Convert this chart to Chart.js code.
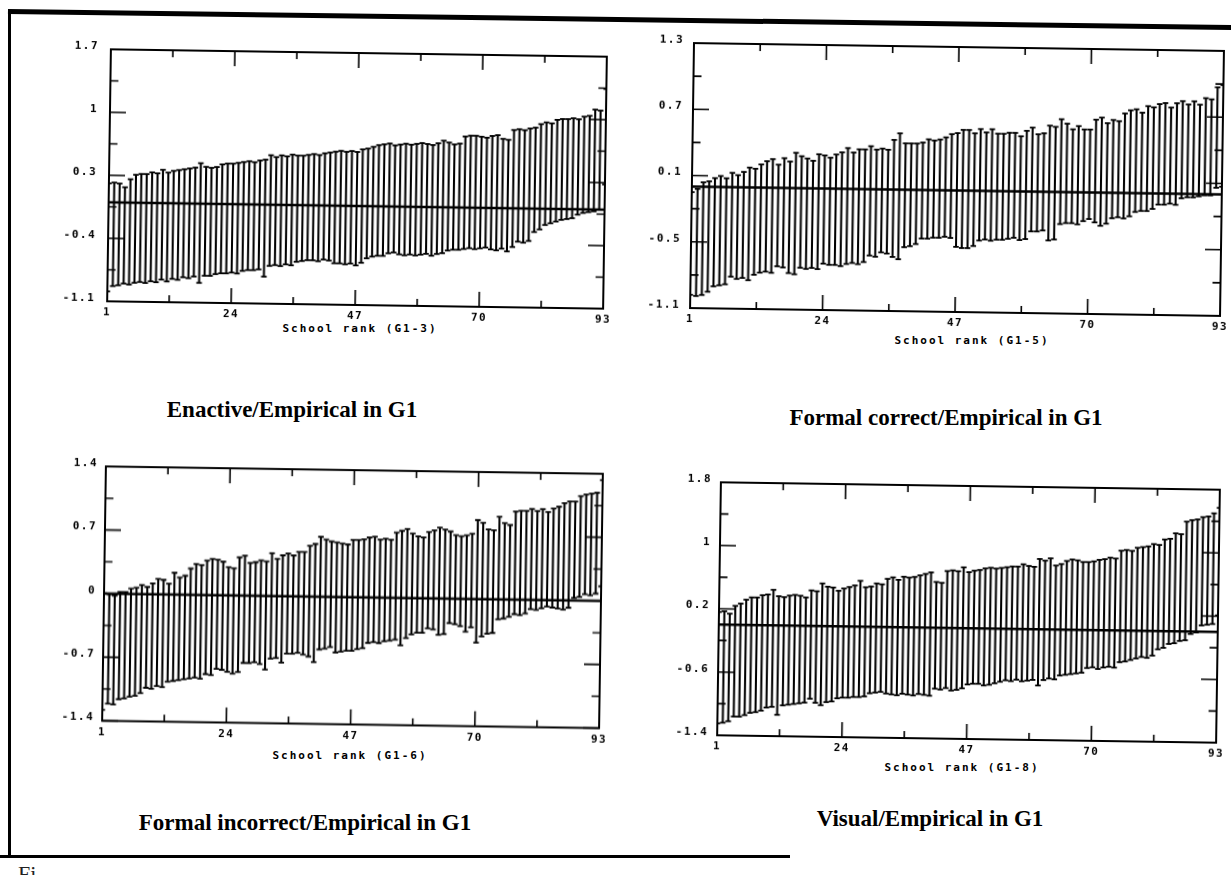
<!DOCTYPE html>
<html>
<head>
<meta charset="utf-8">
<title>School rank plots, G1</title>
<script src="https://cdn.jsdelivr.net/npm/chart.js@4.4.1/dist/chart.umd.min.js"></script>
<style>
  html, body { margin: 0; padding: 0; background: #fff; }
  body { width: 1231px; height: 875px; position: relative; overflow: hidden; }
  .panel { position: absolute; }
  .rank-title { position: absolute; font: bold 11px 'DejaVu Sans Mono', monospace; letter-spacing: 2px; white-space: nowrap; transform: translate(-50%, -50%); }
  .caption { position: absolute; font: bold 23px 'Liberation Serif', 'Times New Roman', serif; white-space: nowrap; transform: translate(-50%, -50%); }
  .rule { position: absolute; background: #000; }
  .cut { position: absolute; left: 18px; top: 861px; font: 22px 'Liberation Serif', serif; color: #222; }
</style>
</head>
<body>
<div class="rule" style="left:8px; top:12px; width:3px; height:846px"></div>
<div class="rule" style="left:8px; top:9px; width:1240px; height:5px; transform-origin:0 0; transform:rotate(0.75deg)"></div>
<div class="rule" style="left:0; top:855px; width:790px; height:3px"></div>
<div class="cut">Fi</div>

<div class="rank-title" style="left:360px; top:328px">School rank (G1-3)</div>
<div class="rank-title" style="left:972px; top:340px">School rank (G1-5)</div>
<div class="rank-title" style="left:350px; top:755px">School rank (G1-6)</div>
<div class="rank-title" style="left:962px; top:767px">School rank (G1-8)</div>

<div class="caption" style="left:292px; top:410px">Enactive/Empirical in G1</div>
<div class="caption" style="left:946px; top:418px">Formal correct/Empirical in G1</div>
<div class="caption" style="left:305px; top:823px">Formal incorrect/Empirical in G1</div>
<div class="caption" style="left:930px; top:819px">Visual/Empirical in G1</div>

<script>
// school ranks 1..93 (x categories)
const ranks = Array.from({ length: 93 }, (_, i) => i + 1);
const xTicks = [1, 24, 47, 70, 93];
const xMinorTicks = [12.5, 35.5, 58.5, 81.5];
const refLine = 0;

// Enactive/Empirical (G1-3)
const p1YTicks = [-1.1, -0.4, 0.3, 1, 1.7];
const p1YLabels = ['-1.1', '-0.4', '0.3', '1', '1.7'];
const p1Upper = [
  0.21, 0.22, 0.21, 0.17, 0.26, 0.31, 0.32, 0.32, 0.34, 0.33,
  0.37, 0.34, 0.36, 0.37, 0.38, 0.39, 0.40, 0.45, 0.41, 0.40,
  0.41, 0.44, 0.45, 0.45, 0.46, 0.47, 0.48, 0.47, 0.49, 0.50,
  0.55, 0.53, 0.55, 0.54, 0.56, 0.55, 0.55, 0.56, 0.57, 0.56,
  0.58, 0.59, 0.60, 0.61, 0.60, 0.61, 0.60, 0.63, 0.64, 0.66,
  0.68, 0.69, 0.70, 0.68, 0.69, 0.70, 0.69, 0.70, 0.71, 0.70,
  0.69, 0.71, 0.74, 0.72, 0.70, 0.71, 0.79, 0.80, 0.80, 0.79,
  0.78, 0.80, 0.81, 0.77, 0.76, 0.87, 0.88, 0.87, 0.89, 0.90,
  0.94, 0.96, 0.95, 0.99, 1.00, 1.00, 1.01, 1.00, 1.03, 1.04,
  1.11, 1.10, 1.34];
const p1Lower = [
  -0.99, -0.93, -0.92, -0.90, -0.91, -0.89, -0.88, -0.89, -0.87, -0.88,
  -0.85, -0.87, -0.84, -0.85, -0.82, -0.83, -0.81, -0.88, -0.80, -0.80,
  -0.78, -0.77, -0.77, -0.76, -0.77, -0.74, -0.73, -0.73, -0.72, -0.80,
  -0.68, -0.67, -0.68, -0.66, -0.67, -0.63, -0.62, -0.61, -0.61, -0.62,
  -0.60, -0.61, -0.64, -0.64, -0.65, -0.64, -0.66, -0.63, -0.58, -0.56,
  -0.55, -0.55, -0.52, -0.51, -0.53, -0.54, -0.53, -0.54, -0.53, -0.52,
  -0.54, -0.52, -0.51, -0.48, -0.47, -0.47, -0.46, -0.45, -0.46, -0.45,
  -0.44, -0.46, -0.47, -0.45, -0.48, -0.43, -0.37, -0.38, -0.36, -0.26,
  -0.23, -0.18, -0.16, -0.14, -0.12, -0.11, -0.10, -0.06, -0.04, -0.03,
  -0.02, 0.00, 0.28];

// Formal correct/Empirical (G1-5)
const p2YTicks = [-1.1, -0.5, 0.1, 0.7, 1.3];
const p2YLabels = ['-1.1', '-0.5', '0.1', '0.7', '1.3'];
const p2Upper = [
  -0.05, -0.02, 0.04, 0.05, 0.08, 0.10, 0.08, 0.13, 0.11, 0.14,
  0.18, 0.17, 0.21, 0.24, 0.26, 0.21, 0.27, 0.24, 0.32, 0.29,
  0.27, 0.25, 0.31, 0.30, 0.28, 0.31, 0.33, 0.37, 0.33, 0.36,
  0.36, 0.39, 0.36, 0.37, 0.36, 0.45, 0.51, 0.42, 0.42, 0.42,
  0.43, 0.46, 0.45, 0.46, 0.48, 0.51, 0.52, 0.55, 0.55, 0.52,
  0.56, 0.53, 0.56, 0.52, 0.52, 0.53, 0.53, 0.50, 0.55, 0.58,
  0.52, 0.53, 0.60, 0.59, 0.66, 0.62, 0.57, 0.60, 0.57, 0.57,
  0.66, 0.68, 0.63, 0.66, 0.65, 0.72, 0.75, 0.76, 0.73, 0.79,
  0.78, 0.81, 0.82, 0.78, 0.82, 0.84, 0.81, 0.84, 0.81, 0.87,
  0.86, 0.97, 0.99];
const p2Lower = [
  -0.98, -0.99, -0.98, -0.95, -0.90, -0.89, -0.88, -0.81, -0.83, -0.82,
  -0.84, -0.79, -0.77, -0.76, -0.77, -0.71, -0.72, -0.77, -0.78, -0.72,
  -0.73, -0.72, -0.73, -0.68, -0.69, -0.69, -0.70, -0.68, -0.67, -0.68,
  -0.66, -0.60, -0.61, -0.57, -0.58, -0.61, -0.63, -0.52, -0.51, -0.49,
  -0.44, -0.44, -0.43, -0.43, -0.42, -0.43, -0.51, -0.52, -0.52, -0.50,
  -0.45, -0.44, -0.45, -0.44, -0.44, -0.43, -0.42, -0.44, -0.43, -0.36,
  -0.36, -0.35, -0.44, -0.43, -0.29, -0.28, -0.28, -0.29, -0.26, -0.24,
  -0.27, -0.30, -0.28, -0.23, -0.22, -0.23, -0.21, -0.17, -0.16, -0.16,
  -0.14, -0.10, -0.10, -0.09, -0.10, -0.04, -0.03, -0.03, -0.02, -0.01,
  -0.01, 0.06, 0.07];

// Formal incorrect/Empirical (G1-6)
const p3YTicks = [-1.4, -0.7, 0, 0.7, 1.4];
const p3YLabels = ['-1.4', '-0.7', '0', '0.7', '1.4'];
const p3Upper = [
  0.00, -0.01, -0.02, 0.02, 0.02, 0.06, 0.07, 0.10, 0.08, 0.12,
  0.17, 0.16, 0.12, 0.24, 0.19, 0.21, 0.29, 0.34, 0.33, 0.38,
  0.40, 0.39, 0.37, 0.31, 0.30, 0.42, 0.44, 0.36, 0.37, 0.39,
  0.38, 0.47, 0.41, 0.45, 0.47, 0.45, 0.49, 0.49, 0.56, 0.58,
  0.66, 0.63, 0.61, 0.60, 0.59, 0.58, 0.63, 0.63, 0.64, 0.66,
  0.67, 0.64, 0.65, 0.64, 0.72, 0.74, 0.76, 0.71, 0.68, 0.67,
  0.73, 0.75, 0.78, 0.76, 0.74, 0.70, 0.69, 0.70, 0.72, 0.87,
  0.84, 0.77, 0.76, 0.91, 0.84, 0.82, 0.97, 0.98, 0.98, 1.00,
  0.98, 1.00, 0.97, 1.01, 1.03, 1.07, 1.09, 1.09, 1.15, 1.17,
  1.18, 1.19, 1.33];
const p3Lower = [
  -1.28, -1.21, -1.22, -1.16, -1.15, -1.13, -1.12, -1.09, -1.03, -1.04,
  -1.01, -1.02, -0.96, -0.95, -0.94, -0.93, -0.92, -0.91, -0.92, -0.87,
  -0.88, -0.81, -0.82, -0.84, -0.86, -0.84, -0.74, -0.74, -0.73, -0.75,
  -0.81, -0.69, -0.68, -0.73, -0.63, -0.63, -0.62, -0.64, -0.66, -0.72,
  -0.58, -0.57, -0.55, -0.61, -0.60, -0.59, -0.59, -0.57, -0.56, -0.50,
  -0.49, -0.50, -0.48, -0.47, -0.46, -0.52, -0.44, -0.40, -0.38, -0.38,
  -0.33, -0.34, -0.40, -0.39, -0.27, -0.28, -0.30, -0.36, -0.31, -0.48,
  -0.41, -0.38, -0.37, -0.22, -0.21, -0.19, -0.16, -0.17, -0.15, -0.10,
  -0.11, -0.09, -0.07, -0.08, -0.09, -0.10, -0.08, 0.03, 0.04, 0.07,
  0.06, 0.08, 0.16];

// Visual/Empirical (G1-8)
const p4YTicks = [-1.4, -0.6, 0.2, 1, 1.8];
const p4YLabels = ['-1.4', '-0.6', '0.2', '1', '1.8'];
const p4Upper = [
  0.16, 0.17, 0.14, 0.24, 0.27, 0.32, 0.35, 0.35, 0.38, 0.39,
  0.45, 0.37, 0.36, 0.38, 0.39, 0.38, 0.36, 0.45, 0.44, 0.54,
  0.50, 0.49, 0.45, 0.48, 0.50, 0.52, 0.58, 0.50, 0.51, 0.55,
  0.54, 0.61, 0.63, 0.60, 0.64, 0.63, 0.64, 0.66, 0.68, 0.70,
  0.58, 0.57, 0.72, 0.73, 0.72, 0.77, 0.71, 0.73, 0.74, 0.76,
  0.77, 0.76, 0.77, 0.78, 0.79, 0.79, 0.82, 0.80, 0.79, 0.89,
  0.87, 0.90, 0.81, 0.83, 0.87, 0.89, 0.88, 0.86, 0.86, 0.87,
  0.89, 0.90, 0.92, 0.91, 1.01, 1.02, 1.01, 1.05, 1.06, 1.07,
  1.10, 1.09, 1.16, 1.17, 1.24, 1.23, 1.39, 1.41, 1.42, 1.45,
  1.46, 1.50, 1.57];
const p4Lower = [
  -1.25, -1.24, -1.22, -1.16, -1.16, -1.14, -1.11, -1.10, -1.08, -1.04,
  -1.03, -1.13, -1.01, -1.00, -0.99, -0.98, -0.97, -0.92, -0.97, -1.00,
  -0.96, -0.95, -0.91, -0.90, -0.90, -0.89, -0.89, -0.88, -0.84, -0.83,
  -0.82, -0.84, -0.85, -0.86, -0.84, -0.85, -0.86, -0.84, -0.85, -0.86,
  -0.77, -0.78, -0.76, -0.79, -0.78, -0.76, -0.71, -0.70, -0.70, -0.72,
  -0.71, -0.69, -0.67, -0.65, -0.66, -0.64, -0.66, -0.65, -0.64, -0.71,
  -0.64, -0.62, -0.63, -0.58, -0.57, -0.56, -0.55, -0.54, -0.48, -0.47,
  -0.49, -0.47, -0.46, -0.47, -0.40, -0.39, -0.37, -0.35, -0.33, -0.34,
  -0.31, -0.23, -0.21, -0.16, -0.15, -0.12, -0.11, -0.03, -0.01, 0.08,
  0.09, 0.10, 0.21];

const panels = [
  { left: 109, right: 605, top: 53, bottom: 305, yTicks: p1YTicks, yLabels: p1YLabels, upper: p1Upper, lower: p1Lower, gap: 12 },
  { left: 692, right: 1222, top: 46.5, bottom: 311.5, yTicks: p2YTicks, yLabels: p2YLabels, upper: p2Upper, lower: p2Lower, gap: 10 },
  { left: 104, right: 601, top: 470, bottom: 723.5, yTicks: p3YTicks, yLabels: p3YLabels, upper: p3Upper, lower: p3Lower, gap: 8 },
  { left: 719, right: 1218, top: 485.5, bottom: 738.5, yTicks: p4YTicks, yLabels: p4YLabels, upper: p4Upper, lower: p4Lower, gap: 9 }
];

const tilt = 0.85;
const tickFont = { family: 'DejaVu Sans Mono', size: 11, weight: 'bold' };

// the old plotter font is spaced out
const spacing = {
  id: 'spacing',
  beforeDraw(chart) { chart.ctx.letterSpacing = '1.5px'; }
};

// box round the plot with inward ticks on all four sides
const frameTicks = {
  id: 'frameTicks',
  afterDatasetsDraw(chart) {
    const { ctx, chartArea: a, scales: { x, y } } = chart;
    const yt = chart.config._config.yTicks;
    ctx.save();
    ctx.strokeStyle = '#000';
    ctx.lineWidth = 1.6;
    ctx.beginPath();
    const hTick = (py, len) => {
      ctx.moveTo(a.left, py); ctx.lineTo(a.left + len, py);
      ctx.moveTo(a.right, py); ctx.lineTo(a.right - len, py);
    };
    const vTick = (px, len) => {
      ctx.moveTo(px, a.top); ctx.lineTo(px, a.top + len);
      ctx.moveTo(px, a.bottom); ctx.lineTo(px, a.bottom - len);
    };
    yt.forEach((v, i) => {
      hTick(y.getPixelForValue(v), 16);
      if (i < yt.length - 1) hTick(y.getPixelForValue((v + yt[i + 1]) / 2), 8);
    });
    xTicks.forEach(v => vTick(x.getPixelForValue(v), 15));
    xMinorTicks.forEach(v => vTick(x.getPixelForValue(v), 7));
    ctx.stroke();
    ctx.lineWidth = 2;
    ctx.strokeRect(a.left, a.top, a.right - a.left, a.bottom - a.top);
    ctx.restore();
  }
};

function drawPanel(p) {
  const padL = 70, padT = 20, padR = 12, padB = 30;
  const w = p.right - p.left, h = p.bottom - p.top;
  const box = document.createElement('div');
  box.className = 'panel';
  box.style.left = (p.left - padL) + 'px';
  box.style.top = (p.top - padT) + 'px';
  box.style.width = (w + padL + padR) + 'px';
  box.style.height = (h + padT + padB) + 'px';
  box.style.transformOrigin = (padL + w / 2) + 'px ' + (padT + h / 2) + 'px';
  box.style.transform = 'rotate(' + tilt + 'deg)';
  const canvas = document.createElement('canvas');
  box.appendChild(canvas);
  document.body.appendChild(box);

  const yMin = p.yTicks[0], yMax = p.yTicks[p.yTicks.length - 1];
  new Chart(canvas, {
    type: 'bar',
    yTicks: p.yTicks,
    data: {
      datasets: [
        {
          type: 'line',
          data: [{ x: ranks[0], y: refLine }, { x: ranks[ranks.length - 1], y: refLine }],
          borderColor: '#000', borderWidth: 2.6, pointRadius: 0, order: 0
        },
        {
          type: 'bar',
          data: ranks.map((r, i) => ({ x: r, y: [p.lower[i], p.upper[i]] })),
          backgroundColor: '#000', barThickness: 1.4, order: 3
        },
        {
          type: 'scatter',
          data: ranks.map((r, i) => ({ x: r, y: p.upper[i] })),
          pointStyle: 'line', pointRadius: 2.8, borderColor: '#000', borderWidth: 1.8, order: 2
        },
        {
          type: 'scatter',
          data: ranks.map((r, i) => ({ x: r, y: p.lower[i] })),
          pointStyle: 'line', pointRadius: 2.8, borderColor: '#000', borderWidth: 1.8, order: 2
        }
      ]
    },
    options: {
      responsive: true,
      maintainAspectRatio: false,
      animation: false,
      events: [],
      layout: { padding: { left: 0, top: padT, right: padR, bottom: 0 } },
      plugins: { legend: { display: false }, tooltip: { enabled: false } },
      scales: {
        x: {
          type: 'linear', min: 1, max: 93, offset: false,
          grid: { display: false, drawTicks: false }, border: { display: false },
          afterBuildTicks: s => { s.ticks = xTicks.map(v => ({ value: v })); },
          afterFit: s => { s.height = padB; },
          ticks: { font: tickFont, color: '#000', padding: 5, maxRotation: 0, autoSkip: false, callback: v => String(v) }
        },
        y: {
          type: 'linear', min: yMin, max: yMax,
          grid: { display: false, drawTicks: false }, border: { display: false },
          afterBuildTicks: s => { s.ticks = p.yTicks.map(v => ({ value: v })); },
          afterFit: s => { s.width = padL; },
          ticks: { font: tickFont, color: '#000', padding: p.gap, labelOffset: -3, callback: (v, i) => p.yLabels[i] }
        }
      }
    },
    plugins: [spacing, frameTicks]
  });
}

panels.forEach(drawPanel);
</script>
</body>
</html>
